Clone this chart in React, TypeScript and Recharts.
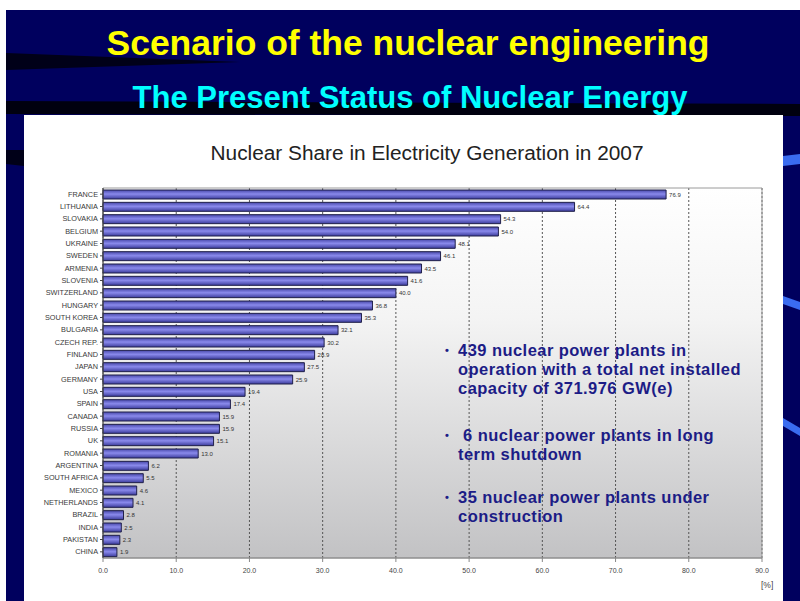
import * as React from 'react';
import { BarChart, Bar, XAxis, YAxis, CartesianGrid, ReferenceArea, LabelList } from 'recharts';

const countries = [
	'FRANCE', 'LITHUANIA', 'SLOVAKIA', 'BELGIUM', 'UKRAINE', 'SWEDEN', 'ARMENIA', 'SLOVENIA',
	'SWITZERLAND', 'HUNGARY', 'SOUTH KOREA', 'BULGARIA', 'CZECH REP.', 'FINLAND', 'JAPAN', 'GERMANY',
	'USA', 'SPAIN', 'CANADA', 'RUSSIA', 'UK', 'ROMANIA', 'ARGENTINA', 'SOUTH AFRICA', 'MEXICO',
	'NETHERLANDS', 'BRAZIL', 'INDIA', 'PAKISTAN', 'CHINA'
];

const shares = [
	76.9, 64.4, 54.3, 54.0, 48.1, 46.1, 43.5, 41.6, 40.0, 36.8, 35.3, 32.1, 30.2, 28.9, 27.5, 25.9,
	19.4, 17.4, 15.9, 15.9, 15.1, 13.0, 6.2, 5.5, 4.6, 4.1, 2.8, 2.5, 2.3, 1.9
];

const xTicks = [0, 10, 20, 30, 40, 50, 60, 70, 80, 90];

const bullets = [
	['439 nuclear power plants in', 'operation with a total net installed', 'capacity of 371.976 GW(e)'],
	['\u00a06 nuclear power plants in long', 'term shutdown'],
	['35 nuclear power plants under', 'construction']
];

const data = countries.map((c, i) => ({ country: c, share: shares[i] }));

// country names on one line, right aligned against the axis
const CountryTick = (props) => {
	const { x, y, payload } = props;
	return (
		<text x={x} y={y} dy={2.6} textAnchor="end" fontSize={7.3} fill="#3a3a3a">
			{payload.value}
		</text>
	);
};

export default function App() {
	return (
		<div
			style={{
				position: 'absolute',
				left: 0,
				top: 0,
				width: 800,
				height: 601,
				background: '#fff',
				overflow: 'hidden',
				fontFamily: '"Liberation Sans", Arial, sans-serif'
			}}
		>
			<svg width={800} height={601} style={{ position: 'absolute', left: 0, top: 0 }}>
				<rect x={6} y={10} width={794} height={591} fill="#00005e" />
				{/* dark streaks of the slide background */}
				<polygon points="6,53 110,57 240,62 6,70" fill="#000018" />
				<polygon points="6,101 800,104 800,116 6,114" fill="#00000f" />
				<polygon points="6,150 24,150 24,166 6,164" fill="#000018" />
				<polygon points="783,156 800,154 800,164 783,166" fill="#3a6cf0" />
				<polygon points="783,296 800,302 800,310 783,304" fill="#3a6cf0" />
				<polygon points="783,418 800,428 800,436 783,426" fill="#3a6cf0" />
				<text
					x={408}
					y={55}
					textAnchor="middle"
					fill="#ffff00"
					fontSize={35}
					fontWeight="bold"
					textLength={603}
					lengthAdjust="spacingAndGlyphs"
				>
					Scenario of the nuclear engineering
				</text>
				<text
					x={410}
					y={108}
					textAnchor="middle"
					fill="#00ffff"
					fontSize={31}
					fontWeight="bold"
					textLength={555}
					lengthAdjust="spacingAndGlyphs"
				>
					The Present Status of Nuclear Energy
				</text>
			</svg>
			<div
				style={{
					position: 'absolute',
					left: 24,
					top: 115,
					width: 759,
					height: 486,
					background: '#fff'
				}}
			>
				<BarChart
					width={759}
					height={486}
					data={data}
					layout="vertical"
					barCategoryGap={3}
					margin={{ top: 73, right: 21, left: 0, bottom: 0 }}
				>
					<defs>
						<linearGradient id="plotBg" x1="0" y1="0" x2="0" y2="1">
							<stop offset="0%" stopColor="#ffffff" />
							<stop offset="35%" stopColor="#f4f4f4" />
							<stop offset="100%" stopColor="#c2c2c4" />
						</linearGradient>
						<linearGradient id="barFill" x1="0" y1="0" x2="0" y2="1">
							<stop offset="0%" stopColor="#4848aa" />
							<stop offset="45%" stopColor="#8a8aec" />
							<stop offset="100%" stopColor="#3c3c9c" />
						</linearGradient>
					</defs>
					<text
						x={403}
						y={45}
						textAnchor="middle"
						fontSize={20}
						fill="#222"
						textLength={433}
						lengthAdjust="spacingAndGlyphs"
					>
						Nuclear Share in Electricity Generation in 2007
					</text>
					<CartesianGrid
						horizontal={false}
						stroke="#555"
						strokeDasharray="2 2"
						fill="url(#plotBg)"
						fillOpacity={1}
					/>
					<ReferenceArea x1={0} x2={90} fill="none" stroke="#9a9a9a" strokeWidth={1} />
					<XAxis
						type="number"
						domain={[0, 90]}
						ticks={xTicks}
						height={43}
						interval={0}
						tickFormatter={(v) => v.toFixed(1)}
						tick={{ fontSize: 7, fill: '#444', dy: 4 }}
						stroke="#888"
						tickSize={4}
					/>
					<YAxis
						type="category"
						dataKey="country"
						width={79}
						interval={0}
						tick={<CountryTick />}
						stroke="#444"
						tickSize={3}
					/>
					<Bar
						dataKey="share"
						fill="url(#barFill)"
						stroke="#20204a"
						strokeWidth={1}
						barSize={9}
						isAnimationActive={false}
					>
						<LabelList
							dataKey="share"
							position="right"
							offset={3}
							fontSize={6}
							fill="#333"
							formatter={(v) => Number(v).toFixed(1)}
						/>
					</Bar>
				</BarChart>
				<div
					style={{
						position: 'absolute',
						left: 737,
						top: 465,
						fontSize: 8.5,
						color: '#444'
					}}
				>
					[%]
				</div>
			</div>
			<div
				style={{
					position: 'absolute',
					left: 445,
					top: 341,
					width: 330,
					color: '#1c1c86',
					fontWeight: 'bold',
					fontSize: 16.5,
					letterSpacing: 0.45,
					lineHeight: '19px'
				}}
			>
				{bullets.map((lines, i) => (
					<div key={i} style={{ position: 'relative', paddingLeft: 13, marginBottom: i === 0 ? 28 : 24 }}>
						<span style={{ position: 'absolute', left: 0, top: 0, fontSize: 11 }}>•</span>
						{lines.map((l, j) => (
							<div key={j} style={{ whiteSpace: 'nowrap' }}>
								{l}
							</div>
						))}
					</div>
				))}
			</div>
		</div>
	);
}
